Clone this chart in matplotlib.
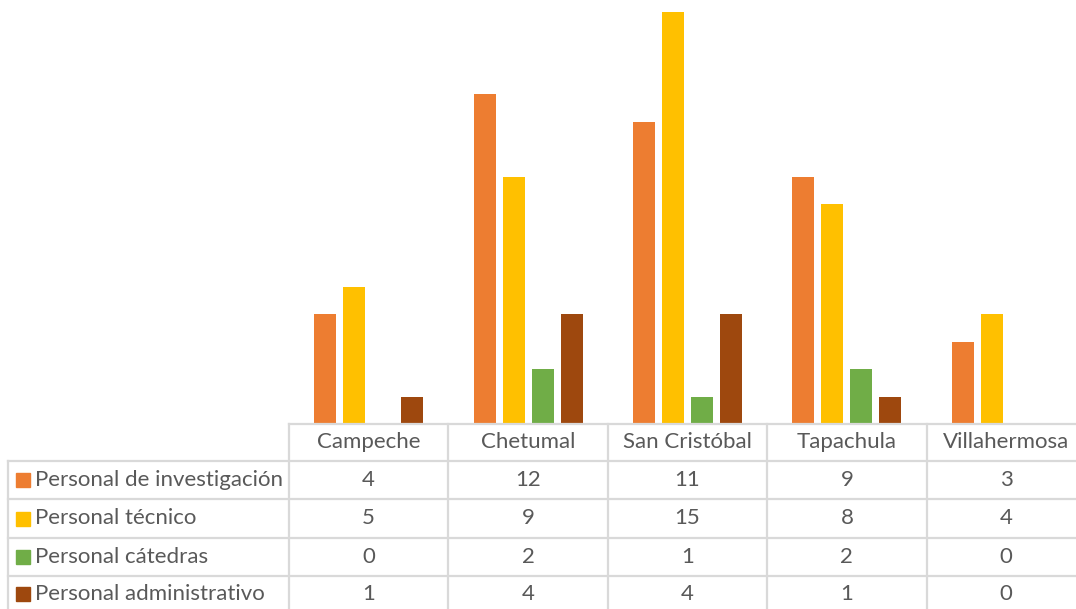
import matplotlib
matplotlib.use("Agg")
import matplotlib.pyplot as plt
from matplotlib.patches import Rectangle

categories = ["Campeche", "Chetumal", "San Cristóbal", "Tapachula", "Villahermosa"]
series_names = ["Personal de investigación", "Personal técnico", "Personal cátedras", "Personal administrativo"]
investigacion = [4, 12, 11, 9, 3]
tecnico = [5, 9, 15, 8, 4]
catedras = [0, 2, 1, 2, 0]
administrativo = [1, 4, 4, 1, 0]
series_values = [investigacion, tecnico, catedras, administrativo]
colors = ["#ED7D31", "#FFC000", "#70AD47", "#9E480E"]

plt.rcParams['font.family'] = ['Lato', 'DejaVu Sans']
W, H = 1076, 609
fig = plt.figure(figsize=(W / 100, H / 100), dpi=100)

# geometry in pixels
x0, colw = 289.0, 159.4
y_axis, y_top = 424.0, 12.0
row_edges = [424, 461, 499, 538, 576, 614]
grid_c = "#D9D9D9"
txt_c = "#595959"
fs = 16

ax = fig.add_axes([x0 / W, (H - y_axis) / H, (colw * 5) / W, (y_axis - y_top) / H])
n = len(series_values)
step, bw = 0.182, 0.138
for i, (vals, c) in enumerate(zip(series_values, colors)):
    xs = [k + (i - (n - 1) / 2) * step for k in range(len(categories))]
    ax.bar(xs, vals, width=bw, color=c, zorder=2)
ax.set_xlim(-0.5, len(categories) - 0.5)
ax.set_ylim(0, 15)
ax.axis("off")

# table overlay in pixel coordinates
tab = fig.add_axes([0, 0, 1, 1], zorder=3)
tab.set_xlim(0, W)
tab.set_ylim(H, 0)
tab.axis("off")
tab.patch.set_alpha(0)
lw = 1.6
right = x0 + colw * 5
tab.plot([x0, right], [row_edges[0], row_edges[0]], color=grid_c, lw=lw)
for r in row_edges[1:]:
    tab.plot([8, right], [r, r], color=grid_c, lw=lw)
tab.plot([8, 8], [row_edges[1], row_edges[-1]], color=grid_c, lw=lw)
for k in range(len(categories) + 1):
    xx = x0 + k * colw
    tab.plot([xx, xx], [row_edges[0], row_edges[-1]], color=grid_c, lw=lw)

for k, cat in enumerate(categories):
    cx = x0 + (k + 0.5) * colw
    tab.text(cx, (row_edges[0] + row_edges[1]) / 2, cat, ha="center", va="center",
             fontsize=fs, color=txt_c)
for i, (name, vals, c) in enumerate(zip(series_names, series_values, colors)):
    cy = (row_edges[i + 1] + row_edges[i + 2]) / 2
    if i == len(series_names) - 1:
        cy = 594
    tab.add_patch(Rectangle((16, cy - 7), 14, 14, color=c))
    tab.text(35, cy, name, ha="left", va="center", fontsize=fs, color=txt_c)
    for k, v in enumerate(vals):
        tab.text(x0 + (k + 0.5) * colw, cy, str(v), ha="center", va="center",
                 fontsize=fs, color=txt_c)

fig.savefig("out.png", dpi=100)
